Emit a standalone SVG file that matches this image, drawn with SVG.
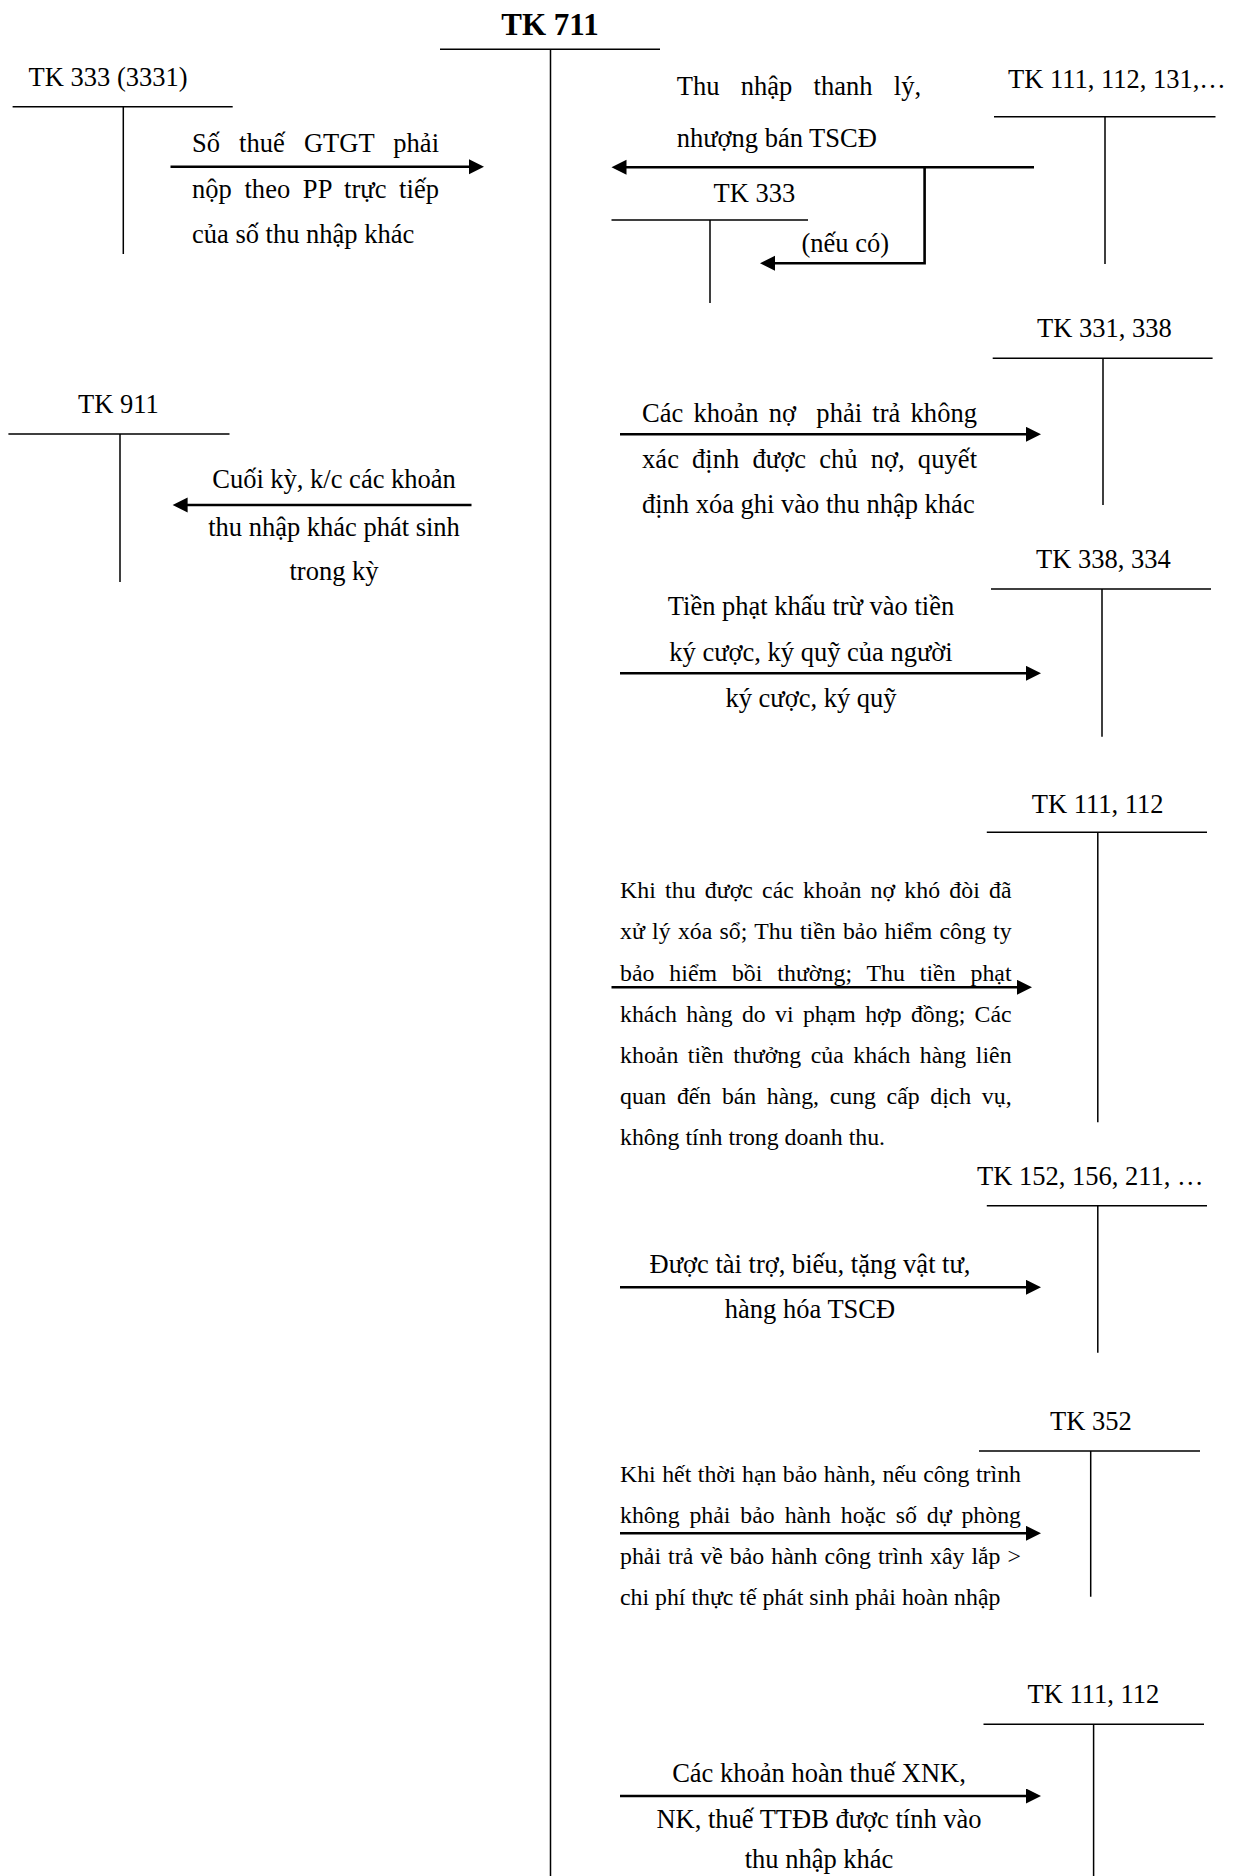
<svg xmlns="http://www.w3.org/2000/svg" width="1239" height="1876" viewBox="0 0 1239 1876">
<style>
text{font-family:"Liberation Serif","Times New Roman",serif;fill:#000}
.t{font-size:26.5px}
.s{font-size:23.8px}
.b{font-size:31px;font-weight:bold}
.c{text-anchor:middle}
.ln{stroke:#000;stroke-width:1.5;fill:none}
.ar{stroke:#000;stroke-width:2.6;fill:none;marker-end:url(#ah)}
</style>
<defs>
<marker id="ah" markerUnits="userSpaceOnUse" markerWidth="16" markerHeight="16" refX="11" refY="7.5" orient="auto">
<path d="M0,0 L15,7.5 L0,15 Z" fill="#000"/>
</marker>
</defs>
<rect width="1239" height="1876" fill="#fff"/>

<g id="tk711">
<text class="b c" x="550" y="35">TK 711</text>
<path class="ln" d="M440,49.3 H660 M550.5,49.3 V1876"/>
</g>

<g id="tk3331">
<text class="t" x="28.6" y="86">TK 333 (3331)</text>
<path class="ln" d="M12.6,106.7 H232.7 M123.3,106.7 V254"/>
</g>

<g id="tk111a">
<text class="t" x="1008" y="88.3">TK 111, 112, 131,…</text>
<path class="ln" d="M994,116.7 H1215.5 M1105,116.7 V264"/>
</g>

<g id="tk333">
<text class="t" x="713.6" y="201.7">TK 333</text>
<path class="ln" d="M611.5,220 H808 M710,220 V303"/>
</g>

<g id="tk911">
<text class="t" x="78" y="413.3">TK 911</text>
<path class="ln" d="M8.4,434 H229.5 M120,434 V582"/>
</g>

<g id="tk331">
<text class="t" x="1037" y="337.3">TK 331, 338</text>
<path class="ln" d="M992.7,358.3 H1212.6 M1103,358.3 V505"/>
</g>

<g id="tk338">
<text class="t" x="1036" y="568.3">TK 338, 334</text>
<path class="ln" d="M991,589 H1211 M1102,589 V736.7"/>
</g>

<g id="tk111b">
<text class="t" x="1031.8" y="812.7">TK 111, 112</text>
<path class="ln" d="M986.8,832.3 H1207 M1097.8,832.3 V1122.3"/>
</g>

<g id="tk152">
<text class="t" x="977" y="1185">TK 152, 156, 211, …</text>
<path class="ln" d="M986.8,1205.7 H1207 M1097.8,1205.7 V1352.7"/>
</g>

<g id="tk352">
<text class="t" x="1050" y="1430">TK 352</text>
<path class="ln" d="M979,1451 H1200 M1090.7,1451 V1596.7"/>
</g>

<g id="tk111c">
<text class="t" x="1027.6" y="1703.3">TK 111, 112</text>
<path class="ln" d="M983.5,1724.3 H1204 M1093.6,1724.3 V1876"/>
</g>

<g id="connectors">
<path class="ar" d="M170.5,166.7 H480"/>
<path class="ar" d="M1034,167.3 H615.5"/>
<path class="ar" d="M924.6,167.3 V263.3 H764"/>
<path class="ar" d="M471.5,505 H176.6"/>
<path class="ar" d="M620,434.3 H1037"/>
<path class="ar" d="M620,673.3 H1037"/>
<path class="ar" d="M611.5,987.3 H1028"/>
<path class="ar" d="M620,1287.3 H1037"/>
<path class="ar" d="M620,1533.3 H1037"/>
<path class="ar" d="M620,1796 H1037"/>
</g>

<g id="labels">
<text class="t" x="192" y="152.3" word-spacing="12.4" textLength="247">Số thuế GTGT phải</text>
<text class="t" x="192" y="198.3" word-spacing="5.8" textLength="247">nộp theo PP trực tiếp</text>
<text class="t" x="192" y="242.7">của số thu nhập khác</text>

<text class="t" x="676.7" y="95" word-spacing="14.7" textLength="244.3">Thu nhập thanh lý,</text>
<text class="t" x="676.7" y="147.3">nhượng bán TSCĐ</text>
<text class="t" x="801.5" y="252">(nếu có)</text>

<text class="t c" x="334" y="488.3">Cuối kỳ, k/c các khoản</text>
<text class="t c" x="334" y="535.7">thu nhập khác phát sinh</text>
<text class="t c" x="334" y="580">trong kỳ</text>

<text class="t" x="642" y="421.7" xml:space="preserve" word-spacing="3.5" textLength="335">Các khoản nợ  phải trả không</text>
<text class="t" x="642" y="468.3" word-spacing="6.3" textLength="335">xác định được chủ nợ, quyết</text>
<text class="t" x="642" y="513.3">định xóa ghi vào thu nhập khác</text>

<text class="t c" x="811" y="615">Tiền phạt khấu trừ vào tiền</text>
<text class="t c" x="811" y="661">ký cược, ký quỹ của người</text>
<text class="t c" x="811" y="706.7">ký cược, ký quỹ</text>

<text class="s" x="620" y="898.3" word-spacing="3.1" textLength="391.6">Khi thu được các khoản nợ khó đòi đã</text>
<text class="s" x="620" y="939.4" word-spacing="1.3" textLength="391.6">xử lý xóa sổ; Thu tiền bảo hiểm công ty</text>
<text class="s" x="620" y="980.5" word-spacing="8.8" textLength="391.6">bảo hiểm bồi thường; Thu tiền phạt</text>
<text class="s" x="620" y="1021.6" word-spacing="3.3" textLength="391.6">khách hàng do vi phạm hợp đồng; Các</text>
<text class="s" x="620" y="1062.7" word-spacing="3.5" textLength="391.6">khoản tiền thưởng của khách hàng liên</text>
<text class="s" x="620" y="1103.8" word-spacing="4.7" textLength="391.6">quan đến bán hàng, cung cấp dịch vụ,</text>
<text class="s" x="620" y="1144.9">không tính trong doanh thu.</text>

<text class="t c" x="810" y="1273.3">Được tài trợ, biếu, tặng vật tư,</text>
<text class="t c" x="810" y="1318.3">hàng hóa TSCĐ</text>

<text class="s" x="620" y="1481.7" word-spacing="0.5" textLength="401">Khi hết thời hạn bảo hành, nếu công trình</text>
<text class="s" x="620" y="1522.8" word-spacing="3.9" textLength="401">không phải bảo hành hoặc số dự phòng</text>
<text class="s" x="620" y="1563.9" word-spacing="1.1" textLength="401">phải trả về bảo hành công trình xây lắp &gt;</text>
<text class="s" x="620" y="1605">chi phí thực tế phát sinh phải hoàn nhập</text>

<text class="t c" x="819" y="1781.7">Các khoản hoàn thuế XNK,</text>
<text class="t c" x="819" y="1828.3">NK, thuế TTĐB được tính vào</text>
<text class="t c" x="819" y="1868">thu nhập khác</text>
</g>
</svg>
